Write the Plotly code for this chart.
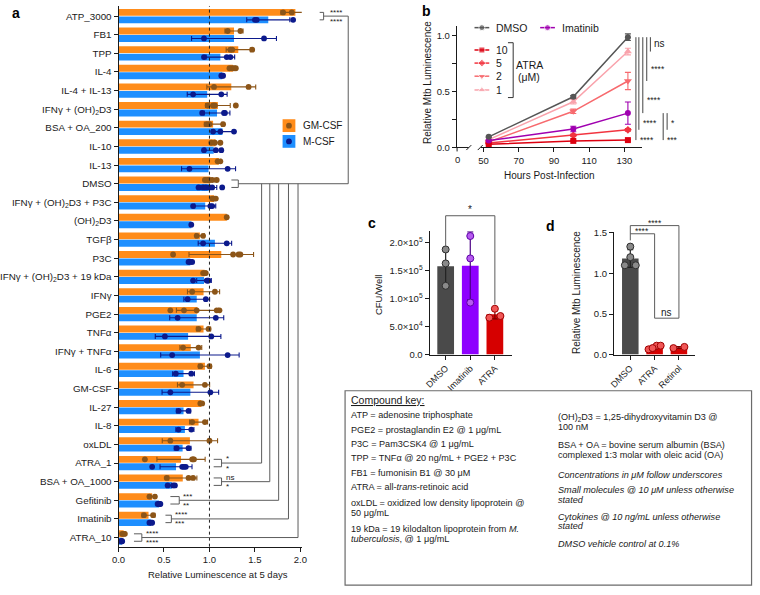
import numpy as np
import plotly.graph_objects as go

W, H = 760, 595
def fx(p): return p / W
def fy(p): return 1 - p / H

FONT = "Liberation Sans, Arial, Helvetica, sans-serif"
INK = "#1a1a1a"
SIGC = "#5c5c5c"

# ================= Panel a data =================
conditions = ["ATP_3000", "FB1", "TPP", "IL-4", "IL-4 + IL-13",
              "IFNγ + (OH)<sub>2</sub>D3", "BSA + OA_200", "IL-10", "IL-13", "DMSO",
              "IFNγ + (OH)<sub>2</sub>D3 + P3C", "(OH)<sub>2</sub>D3", "TGFβ", "P3C",
              "IFNγ + (OH)<sub>2</sub>D3 + 19 kDa", "IFNγ", "PGE2", "TNFα", "IFNγ + TNFα",
              "IL-6", "GM-CSF", "IL-27", "IL-8", "oxLDL", "ATRA_1", "BSA + OA_1000",
              "Gefitinib", "Imatinib", "ATRA_10"]
gm_csf_points = [
    [1.81, 1.905, 2.12], [1.20, 1.34], [1.23, 1.25, 1.47], [1.22, 1.25, 1.27, 1.29],
    [1.05, 1.43], [0.98, 1.04, 1.06, 1.29], [0.97, 1.00, 1.15], [1.02, 1.06, 1.12],
    [1.09, 1.12], [0.95, 0.98, 1.00, 1.03, 1.08],
    [1.03, 1.05, 1.07], [1.19], [0.86, 0.93], [0.60, 1.26, 1.32, 1.34],
    [0.93, 0.95, 0.96], [0.81, 1.06], [0.57, 0.72, 0.86, 1.08, 1.11], [0.88, 0.99],
    [0.71, 0.88], [0.90, 1.00], [0.70, 0.95], [0.90, 0.92], [0.81, 0.95], [0.57, 1.00],
    [0.29, 0.81, 0.82, 0.83], [0.53, 0.77, 0.82], [0.34, 0.40], [0.28, 0.38],
    [0.04, 0.06, 0.07]]
m_csf_points = [
    [1.50, 1.52, 1.92], [0.94, 1.60], [0.94, 1.19, 1.23], [1.13, 1.14, 1.15],
    [0.82, 1.13], [0.92, 1.16, 1.17], [1.04, 1.12, 1.27], [0.94, 1.07, 1.13],
    [0.78, 1.20], [0.88, 0.93, 0.96, 1.00, 1.03, 1.14],
    [0.82, 1.01, 1.03], [0.80], [0.93, 1.19], [0.77, 0.79, 0.81],
    [0.82, 0.97, 0.98, 0.99], [0.76, 0.96], [0.65, 1.07], [0.51, 1.02],
    [0.59, 1.20], [0.63, 0.80], [0.57, 1.01], [0.66, 0.77], [0.66, 0.80], [0.64, 0.77],
    [0.37, 0.70, 0.72, 0.74], [0.54, 0.60, 0.62], [0.43, 0.45, 0.46], [0.34, 0.36, 0.37],
    [0.03, 0.035, 0.04]]
a_xticks = [0.0, 0.5, 1.0, 1.5, 2.0]
a_sig_conditions = ["ATP_3000", "ATRA_1", "BSA + OA_1000", "Gefitinib", "Imatinib", "ATRA_10"]
a_sig_gm = ["****", "*", "ns", "***", "****", "****"]
a_sig_m = ["****", "*", "*", "**", "***", "****"]

# ================= Panel b data =================
hours = [53, 101, 132]
b_dmso = [0.095, 0.453, 0.985]
b_dmso_err = [0.006, 0.012, 0.03]
b_imatinib = [0.062, 0.165, 0.307]
b_imatinib_err = [0.006, 0.025, 0.10]
b_atra10 = [0.028, 0.059, 0.066]
b_atra10_err = [0.004, 0.006, 0.008]
b_atra5 = [0.04, 0.109, 0.158]
b_atra5_err = [0.004, 0.01, 0.012]
b_atra2 = [0.05, 0.323, 0.594]
b_atra2_err = [0.004, 0.02, 0.077]
b_atra1 = [0.07, 0.408, 0.857]
b_atra1_err = [0.005, 0.02, 0.03]
b_yticks = [0.0, 0.25, 0.5, 0.75, 1.0]
b_yticktext = ["0.0", "", "0.5", "", "1.0"]
b_xticks = [50, 70, 90, 110, 130]
b_origin_label = "0"
b_sig = [("DMSO", "ATRA 1", "ns"), ("DMSO", "ATRA 2", "****"), ("DMSO", "Imatinib", "****"),
         ("DMSO", "ATRA 5", "****"), ("DMSO", "ATRA 10", "****"),
         ("Imatinib", "ATRA 5", "*"), ("Imatinib", "ATRA 10", "***")]

# ================= Panel c data =================
c_groups = ["DMSO", "Imatinib", "ATRA"]
c_points = [[1.88e5, 1.63e5, 1.23e5], [2.12e5, 1.72e5, 0.93e5], [0.82e5, 0.66e5, 0.69e5]]
c_yticks = [0, 5e4, 1e5, 1.5e5, 2e5]
c_yticktext = ["0.0", "5.0×10<sup>4</sup>", "1.0×10<sup>5</sup>", "1.5×10<sup>5</sup>", "2.0×10<sup>5</sup>"]

# ================= Panel d data =================
d_groups = ["DMSO", "ATRA", "Retinol"]
d_points = [[1.10, 1.33, 1.20, 1.10], [0.065, 0.11, 0.08, 0.11], [0.08, 0.095]]
d_yticks = [0.0, 0.5, 1.0, 1.5]

# ================= styles =================
ORANGE, BROWN = "#FF8C1A", "#8C5518"
BLUE, NAVY = "#1E8FFF", "#0C1A8C"
series_style = {
    "DMSO": ("#565656", "circle", 6),
    "Imatinib": ("#A000B0", "circle", 6),
    "ATRA 10": ("#DC0010", "square", 6),
    "ATRA 5": ("#F2343F", "diamond", 6),
    "ATRA 2": ("#F76A6E", "triangle-down", 7),
    "ATRA 1": ("#F9A3AC", "triangle-up", 7),
}
c_bar_colors = ["#4A4A4A", "#8E00FF", "#D60000"]
c_dot_colors = ["#8A8A8A", "#B65BEF", "#F05656"]
c_dot_lines = ["#2E2E2E", "#5E00A8", "#9E0000"]
c_err_colors = ["#222222", "#4B0085", "#7A0000"]
d_bar_colors = ["#4A4A4A", "#D60000", "#D60000"]
d_dot_colors = ["#8A8A8A", "#F05656", "#F05656"]
d_dot_lines = ["#2E2E2E", "#9E0000", "#9E0000"]
d_err_colors = ["#222222", "#7A0000", "#7A0000"]


def stats(points):
    mean = np.array([np.mean(p) for p in points])
    sd = np.array([np.std(p, ddof=1) if len(p) > 1 else 0.0 for p in points])
    return mean, sd


def spread(vals, tol, maxstep=0.45, width=0.5):
    vals = np.asarray(vals, float)
    off = np.zeros(len(vals))
    order = list(np.argsort(vals))
    groups, cur = [], [order[0]]
    for k in order[1:]:
        if abs(vals[k] - vals[cur[-1]]) < tol:
            cur.append(k)
        else:
            groups.append(cur)
            cur = [k]
    groups.append(cur)
    for g in groups:
        m = len(g)
        if m > 1:
            step = min(maxstep, width / (m - 1))
            for j, k in enumerate(g):
                off[k] = (j - (m - 1) / 2) * step
    return off


fig = go.Figure()

# ================= Panel a traces =================
idx = [int(i) for i in range(len(conditions))]
OFF, BW = 0.2, 0.37
gm_mean, gm_sd = stats(gm_csf_points)
m_mean, m_sd = stats(m_csf_points)
for mean, sd, pts, off, bcol, dcol in [(gm_mean, gm_sd, gm_csf_points, -OFF, ORANGE, BROWN),
                                       (m_mean, m_sd, m_csf_points, OFF, BLUE, NAVY)]:
    ypos = [i + off for i in idx]
    fig.add_trace(go.Bar(x=mean, y=ypos, orientation="h", width=BW,
                         marker=dict(color=bcol, line_width=0), cliponaxis=False,
                         xaxis="x", yaxis="y", showlegend=False))
    fig.add_trace(go.Scatter(x=mean, y=ypos, mode="markers", marker=dict(size=0.1, color=dcol),
                             error_x=dict(type="data", array=sd, color=dcol, thickness=1.1, width=2.5),
                             cliponaxis=False, xaxis="x", yaxis="y", showlegend=False))
    xs = [v for p in pts for v in p]
    ys = [i + off for i, p in enumerate(pts) for _ in p]
    fig.add_trace(go.Scatter(x=xs, y=ys, mode="markers", marker=dict(size=5.8, color=dcol),
                             cliponaxis=False, xaxis="x", yaxis="y", showlegend=False))

# ================= Panel b traces =================
b_data = {"ATRA 1": (b_atra1, b_atra1_err), "ATRA 2": (b_atra2, b_atra2_err),
          "ATRA 5": (b_atra5, b_atra5_err), "ATRA 10": (b_atra10, b_atra10_err),
          "Imatinib": (b_imatinib, b_imatinib_err), "DMSO": (b_dmso, b_dmso_err)}
for name, (vals, err) in b_data.items():
    col, sym, sz = series_style[name]
    fig.add_trace(go.Scatter(x=hours, y=vals, mode="lines+markers", name=name,
                             line=dict(color=col, width=1.5),
                             marker=dict(color=col, symbol=sym, size=sz),
                             error_y=dict(type="data", array=err, color=col, thickness=1.1, width=3),
                             xaxis="x3", yaxis="y2", showlegend=False, cliponaxis=False))

# ================= Panel c & d traces =================
for pts, xa, ya, bcols, dcols, dlines, ecols, tol in [
        (c_points, "x4", "y4", c_bar_colors, c_dot_colors, c_dot_lines, c_err_colors, 0.06e5),
        (d_points, "x5", "y5", d_bar_colors, d_dot_colors, d_dot_lines, d_err_colors, 0.06)]:
    mean, sd = stats(pts)
    for i in range(len(pts)):
        fig.add_trace(go.Bar(x=[i], y=[mean[i]], width=0.68,
                             marker=dict(color=bcols[i], line_width=0),
                             error_y=dict(type="data", array=[sd[i]], color=ecols[i], thickness=1.2, width=3),
                             xaxis=xa, yaxis=ya, showlegend=False))
    for i, p in enumerate(pts):
        fig.add_trace(go.Scatter(x=i + spread(p, tol), y=p, mode="markers",
                                 marker=dict(size=7, color=dcols[i], line=dict(color=dlines[i], width=1)),
                                 xaxis=xa, yaxis=ya, showlegend=False, cliponaxis=False))

# ================= legend glyphs (overlay pixel axis) =================
b_legend = [("DMSO", 475, 24), ("Imatinib", 541.7, 24), ("ATRA 10", 475, 46.7),
            ("ATRA 5", 475, 60), ("ATRA 2", 475, 73.3), ("ATRA 1", 475, 87.3)]
b_legend_label = {"DMSO": "DMSO", "Imatinib": "Imatinib", "ATRA 10": "10", "ATRA 5": "5",
                  "ATRA 2": "2", "ATRA 1": "1"}
annotations = []
for name, x0, y0 in b_legend:
    col, sym, sz = series_style[name]
    fig.add_trace(go.Scatter(x=[x0, x0 + 7.5, x0 + 15], y=[y0, y0, y0], mode="lines+markers",
                             line=dict(color=col, width=1.5),
                             marker=dict(color=col, symbol=sym, size=[0, sz, 0]),
                             xaxis="x6", yaxis="y6", showlegend=False, hoverinfo="skip"))
    annotations.append(dict(x=fx(x0 + 20), y=fy(y0), xref="paper", yref="paper", text=b_legend_label[name],
                            showarrow=False, xanchor="left", yanchor="middle", font=dict(size=10.5)))
# panel a legend glyph dots
for yc, dcol in [(123.5, BROWN), (139.5, NAVY)]:
    fig.add_trace(go.Scatter(x=[286.5], y=[yc], mode="markers", marker=dict(size=5.8, color=dcol),
                             xaxis="x6", yaxis="y6", showlegend=False, hoverinfo="skip"))

shapes = []
def pline(x0, y0, x1, y1, color=SIGC, width=1, xref="paper", yref="paper", dash=None):
    d = dict(type="line", x0=x0, y0=y0, x1=x1, y1=y1, xref=xref, yref=yref,
             line=dict(color=color, width=width))
    if dash:
        d["line"]["dash"] = dash
    shapes.append(d)

# panel a legend squares
for y0, col in [(117, ORANGE), (133, BLUE)]:
    shapes.append(dict(type="rect", x0=fx(280), x1=fx(293), y0=fy(y0), y1=fy(y0 + 13),
                       xref="paper", yref="paper", fillcolor=col, line_width=0, layer="below"))
annotations.append(dict(x=fx(299), y=fy(123.5), xref="paper", yref="paper", text="GM-CSF", showarrow=False,
                        xanchor="left", yanchor="middle", font=dict(size=10)))
annotations.append(dict(x=fx(299), y=fy(139.5), xref="paper", yref="paper", text="M-CSF", showarrow=False,
                        xanchor="left", yanchor="middle", font=dict(size=10)))

# dotted reference line at 1.0
shapes.append(dict(type="line", x0=1, x1=1, y0=0, y1=1, xref="x", yref="y domain",
                   line=dict(color="#222", width=1, dash="dot"), layer="above"))

# panel a significance brackets
dmso_row = conditions.index("DMSO")
a_arm_x0 = [317.7, 210, 210, 166, 161, 129]
a_arm_x1 = [321.7, 218, 218, 175, 167, 137]
a_trunk_x = [346.7, 258.7, 267, 276, 286, 295.7]
def bracket_a(row, xa0, xa1, xt):
    pline(fx(xa0), row - OFF, fx(xa1), row - OFF, yref="y")
    pline(fx(xa0), row + OFF, fx(xa1), row + OFF, yref="y")
    pline(fx(xa1), row - OFF, fx(xa1), row + OFF, yref="y")
    pline(fx(xa1), row, fx(xt), row, yref="y")
bracket_a(dmso_row, 228, 235, 346.7)
for k, cond in enumerate(a_sig_conditions):
    r = conditions.index(cond)
    bracket_a(r, a_arm_x0[k], a_arm_x1[k], a_trunk_x[k])
    pline(fx(a_trunk_x[k]), r, fx(a_trunk_x[k]), dmso_row, yref="y")
    tx = a_arm_x1[k] + (5 if k == 0 else 3)
    for txt, dy in [(a_sig_gm[k], -1), (a_sig_m[k], 1)]:
        star = "*" in txt
        shift = (4.1 if star else 3.8) if dy < 0 else -5.0
        annotations.append(dict(x=fx(tx), y=r, xref="paper", yref="y", text=txt, showarrow=False,
                                xanchor="left", yanchor="middle", yshift=shift, borderpad=0,
                                font=dict(size=8)))

# panel b: broken x axis (short origin stub), break marks, legend bracket, significance
B_Y0 = 145.7
pline(fx(456), fy(B_Y0), fx(469), fy(B_Y0), color=INK)
pline(fx(457.3), fy(B_Y0), fx(457.3), fy(B_Y0 + 4), color=INK)
annotations.append(dict(x=fx(457.3), y=fy(B_Y0 + 5), xref="paper", yref="paper", text=b_origin_label,
                        showarrow=False, xanchor="center", yanchor="top", font=dict(size=9.5)))
pline(fx(466.7), fy(148.3), fx(471.7), fy(143.3), color=INK)
pline(fx(478.3), fy(148.3), fx(483.3), fy(143.3), color=INK)
pline(fx(514.3), fy(39.3), fx(514.3), fy(95), color="#333")
pline(fx(509), fy(39.3), fx(514.3), fy(39.3), color="#333")
pline(fx(509), fy(95), fx(514.3), fy(95), color="#333")
annotations.append(dict(x=fx(530.5), y=fy(61.7), xref="paper", yref="paper", text="ATRA", showarrow=False,
                        xanchor="center", yanchor="middle", font=dict(size=10.5)))
annotations.append(dict(x=fx(530.5), y=fy(74.5), xref="paper", yref="paper", text="(μM)", showarrow=False,
                        xanchor="center", yanchor="middle", font=dict(size=10.5)))
b_sig_x = [653.7, 650, 646, 642, 639, 670.7, 666.7]
b_sig_text_y = [40, 64, 95, 119, 136, 119, 136]
for (s0, s1, txt), xs, ty in zip(b_sig, b_sig_x, b_sig_text_y):
    pline(fx(xs), b_data[s0][0][-1], fx(xs), b_data[s1][0][-1], yref="y2", color="#444")
    annotations.append(dict(x=fx(xs + 2), y=fy(ty), xref="paper", yref="paper", text=txt, showarrow=False,
                            xanchor="left", yanchor="middle", yshift=(-2 if "*" in txt else 0),
                            font=dict(size=8.5 if "*" in txt else 10)))

# panel c significance
pline(0, fy(246.7), 0, fy(215), xref="x4")
pline(0, fy(215), 2, fy(215), xref="x4")
pline(2, fy(215), 2, fy(305), xref="x4")
annotations.append(dict(x=1, y=fy(209), xref="x4", yref="paper", text="*", showarrow=False,
                        xanchor="center", yanchor="middle", font=dict(size=10)))
# panel d significance
pline(0, fy(240), 0, fy(225), xref="x5")
pline(0, fy(225), 2, fy(225), xref="x5")
pline(2, fy(225), 2, fy(319), xref="x5")
pline(0, fy(233.3), 1, fy(233.3), xref="x5")
pline(1, fy(233.3), 1, fy(319), xref="x5")
pline(1, fy(319), 2, fy(319), xref="x5")
annotations.append(dict(x=1, y=fy(222.5), xref="x5", yref="paper", text="****", showarrow=False,
                        xanchor="center", yanchor="middle", font=dict(size=8.5)))
annotations.append(dict(x=0.5, y=fy(230.5), xref="x5", yref="paper", text="****", showarrow=False,
                        xanchor="center", yanchor="middle", font=dict(size=8.5)))
annotations.append(dict(x=1.5, y=fy(313), xref="x5", yref="paper", text="ns", showarrow=False,
                        xanchor="center", yanchor="middle", font=dict(size=10)))

# axis titles and panel letters
for txt, x, y, ang, sz in [("Relative Luminescence at 5 days", 214, 579, 0, 9.5),
                           ("Hours Post-Infection", 551.7, 174.3, 0, 10),
                           ("Relative Mtb Luminescence", 428, 80, -90, 10),
                           ("CFU/Well", 377.5, 296, -90, 9.5),
                           ("Relative Mtb Luminescence", 578.5, 293, -90, 10)]:
    annotations.append(dict(x=fx(x), y=fy(y), xref="paper", yref="paper", text=txt, showarrow=False,
                            xanchor="center", yanchor="middle", textangle=ang, font=dict(size=sz)))
for txt, x, y in [("a", 9, 9), ("b", 426, 7), ("c", 370.5, 222), ("d", 552, 225)]:
    annotations.append(dict(x=fx(x), y=fy(y), xref="paper", yref="paper", text="<b>%s</b>" % txt,
                            showarrow=False, xanchor="center", yanchor="middle", font=dict(size=14, color="#000")))

# ================= compound key =================
shapes.append(dict(type="rect", x0=fx(343.5), x1=fx(756.5), y0=fy(392.7), y1=fy(590),
                   xref="paper", yref="paper", line=dict(color="#6b6b6b", width=1.2)))
key_title = "<u>Compound key:</u>"
key_left = ["ATP = adenosine triphosphate", "PGE2 = prostaglandin E2 @ 1 μg/mL",
            "P3C = Pam3CSK4 @ 1 μg/mL", "TPP = TNFα @ 20 ng/mL + PGE2 + P3C",
            "FB1 = fumonisin B1 @ 30 μM", "ATRA = all-<i>trans</i>-retinoic acid",
            "oxLDL = oxidized low density lipoprotein @", "50 μg/mL",
            "19 kDa = 19 kilodalton lipoprotein from <i>M.</i>", "<i>tuberculosis</i>, @ 1 μg/mL"]
key_left_y = [417.7, 432.3, 446.7, 461, 476, 490.7, 506.7, 516.7, 533.3, 543.3]
key_right = ["(OH)<sub>2</sub>D3 = 1,25-dihydroxyvitamin D3 @", "100 nM",
             "BSA + OA = bovine serum albumin (BSA)", "complexed 1:3 molar with oleic acid (OA)",
             "<i>Concentrations in μM follow underscores</i>",
             "<i>Small molecules @ 10 μM unless otherwise</i>", "<i>stated</i>",
             "<i>Cytokines @ 10 ng/mL unless otherwise</i>", "<i>stated</i>",
             "<i>DMSO vehicle control at 0.1%</i>"]
key_right_y = [419.5, 429.3, 447.7, 457.7, 478.3, 493.3, 503.3, 520.7, 530, 548.3]
annotations.append(dict(x=fx(347), y=fy(402), xref="paper", yref="paper", text=key_title, showarrow=False,
                        xanchor="left", yanchor="middle", font=dict(size=10.5)))
for txts, ys, x0 in [(key_left, key_left_y, 347), (key_right, key_right_y, 558)]:
    for t, y in zip(txts, ys):
        annotations.append(dict(x=fx(x0), y=fy(y), xref="paper", yref="paper", text=t, showarrow=False,
                                xanchor="left", yanchor="middle", font=dict(size=9.1)))

# ================= axes =================
ax_common = dict(showgrid=False, zeroline=False, showline=True, linecolor=INK, linewidth=1,
                 ticks="outside", ticklen=4, tickwidth=1, tickcolor=INK,
                 tickfont=dict(size=9.5, color=INK))
layout = dict(
    width=W, height=H, margin=dict(l=0, r=0, t=0, b=0),
    paper_bgcolor="white", plot_bgcolor="rgba(0,0,0,0)", barmode="overlay",
    font=dict(family=FONT, color=INK), showlegend=False,
    xaxis=dict(**ax_common, domain=[fx(113.3), fx(299.5)], range=[0, 2.015], anchor="y",
               tickvals=a_xticks, ticktext=["%.1f" % v for v in a_xticks]),
    yaxis=dict(**{**ax_common, "tickfont": dict(size=9.8, color=INK)}, domain=[fy(551), fy(2)],
               range=[len(conditions) - 1 + 0.49, -0.545], anchor="x",
               tickvals=idx, ticktext=conditions),
    xaxis3=dict(**ax_common, domain=[fx(481.7), fx(645)], range=[48.66, 139.9], anchor="y2",
                tickvals=b_xticks),
    yaxis2=dict(**ax_common, domain=[fy(B_Y0), fy(22)], range=[0, 1.088], anchor="free",
                position=fx(456), tickvals=b_yticks, ticktext=b_yticktext),
    xaxis4=dict(**{**ax_common, "tickfont": dict(size=9, color=INK)}, domain=[fx(429.3), fx(512.7)],
                range=[-0.656, 2.68], anchor="y4", tickvals=[0, 1, 2], ticktext=c_groups, tickangle=-45),
    yaxis4=dict(**ax_common, domain=[fy(356), fy(230.7)], range=[0, 2.206e5], anchor="x4",
                tickvals=c_yticks, ticktext=c_yticktext),
    xaxis5=dict(**{**ax_common, "tickfont": dict(size=9, color=INK)}, domain=[fx(616.7), fx(699)],
                range=[-0.672, 2.66], anchor="y5", tickvals=[0, 1, 2], ticktext=d_groups, tickangle=-45),
    yaxis5=dict(**ax_common, domain=[fy(356), fy(231)], range=[0, 1.516], anchor="x5",
                tickvals=d_yticks, ticktext=["%.1f" % v for v in d_yticks]),
    xaxis6=dict(visible=False, domain=[0, 1], range=[0, W], anchor="y6"),
    yaxis6=dict(visible=False, domain=[0, 1], range=[H, 0], anchor="x6"),
    shapes=shapes, annotations=annotations,
)
fig.update_layout(**layout)
fig.write_html("out.html", config={"displayModeBar": False},
               post_script="document.body.style.margin='0';document.body.style.overflow='hidden';")
